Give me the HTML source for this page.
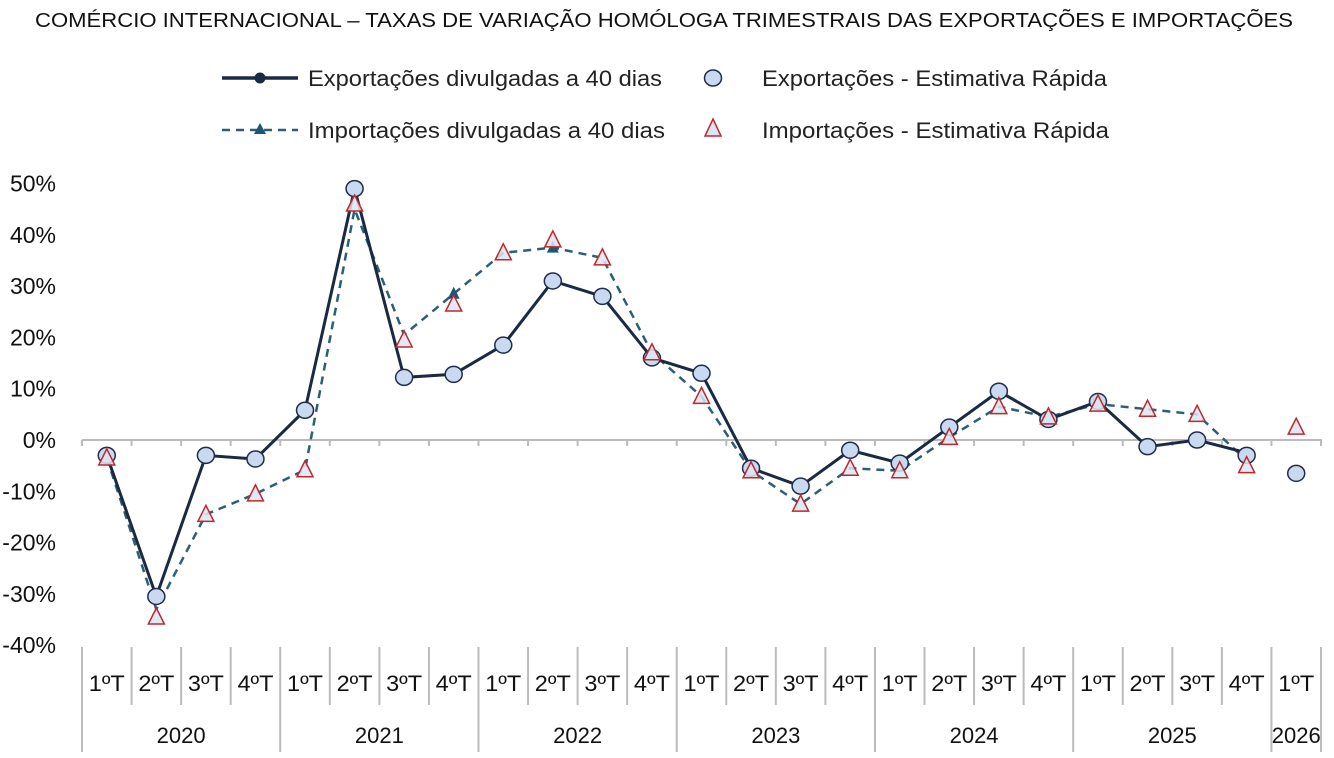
<!DOCTYPE html>
<html><head><meta charset="utf-8"><style>
html,body{margin:0;padding:0;background:#fff;}
svg{display:block;font-family:"Liberation Sans",sans-serif;}
</style></head><body>
<svg id="c" width="1334" height="758" xmlns="http://www.w3.org/2000/svg">
<text x="35" y="27" font-size="20" fill="#111" textLength="1258" lengthAdjust="spacingAndGlyphs">COMÉRCIO INTERNACIONAL – TAXAS DE VARIAÇÃO HOMÓLOGA TRIMESTRAIS DAS EXPORTAÇÕES E IMPORTAÇÕES</text>
<line x1="222" y1="78" x2="298" y2="78" stroke="#1a2a44" stroke-width="3.5"/>
<circle cx="260" cy="78" r="5.5" fill="#1a2a44"/>
<text x="308" y="86" font-size="22" fill="#222" textLength="354" lengthAdjust="spacingAndGlyphs">Exportações divulgadas a 40 dias</text>
<ellipse cx="713" cy="78" rx="8.5" ry="8" fill="#c9d9ef" stroke="#1f2d4a" stroke-width="1.5"/>
<text x="762" y="86" font-size="22" fill="#222" textLength="345" lengthAdjust="spacingAndGlyphs">Exportações - Estimativa Rápida</text>
<line x1="222" y1="130" x2="298" y2="130" stroke="#2d5f73" stroke-width="2.5" stroke-dasharray="8,6"/>
<polygon points="260,123 266,134 254,134" fill="#1f5673"/>
<text x="308" y="138" font-size="22" fill="#222" textLength="357" lengthAdjust="spacingAndGlyphs">Importações divulgadas a 40 dias</text>
<polygon points="713,119 721,136 705,136" fill="#dce6f2" stroke="#c0272d" stroke-width="1.5"/>
<text x="762" y="138" font-size="22" fill="#222" textLength="347" lengthAdjust="spacingAndGlyphs">Importações - Estimativa Rápida</text>
<g id="g"></g>
</svg>
<script>
var g=document.getElementById('g'),s='';
function Y(v){return 440-v*5.13;}
var x0=82,w=49.56;function X(i){return x0+w*(i+0.5);}
for(var v=50;v>=-40;v-=10){s+='<text x="56" y="'+(Y(v)+8)+'" text-anchor="end" font-size="23" fill="#111">'+v+'%</text>';}
s+='<line x1="82" y1="440" x2="1322" y2="440" stroke="#bbb" stroke-width="2"/>';
for(var i=0;i<=25;i++){var x=x0+w*i;s+='<line x1="'+x+'" y1="440" x2="'+x+'" y2="446" stroke="#bbb" stroke-width="2"/>';}
var yr=[0,4,8,12,16,20,24,25];
for(var i=0;i<=25;i++){var x=x0+w*i;var big=yr.indexOf(i)>=0;s+='<line x1="'+x+'" y1="647" x2="'+x+'" y2="'+(big?752:705)+'" stroke="#bbb" stroke-width="2"/>';}
var q=['1ºT','2ºT','3ºT','4ºT'];
for(var i=0;i<25;i++){s+='<text x="'+(X(i)-18)+'" y="691" font-size="22" fill="#111" textLength="36" lengthAdjust="spacingAndGlyphs">'+q[i%4]+'</text>';}
var ys=['2020','2021','2022','2023','2024','2025'];
for(var k=0;k<6;k++){s+='<text x="'+(x0+w*(4*k+2))+'" y="743" text-anchor="middle" font-size="22" fill="#111">'+ys[k]+'</text>';}
s+='<text x="'+X(24)+'" y="743" text-anchor="middle" font-size="22" fill="#111">2026</text>';
var ex=[-3,-30.5,-3,-3.7,5.8,49,12.2,12.8,18.5,31,28,16,13,-5.5,-9,-2,-4.5,2.5,9.5,4,7.5,-1.3,0,-3,-6.5];
var exl=ex.slice(0,24);exl[23]=-2.5;
var im=[-3.5,-34.5,-14.5,-10.5,-5.8,46,19.5,26.5,36.5,39,35.5,17,8.5,-6,-12.5,-5.5,-6,0.5,6.5,4.5,7,6,5,-5,2.5];
var iml=im.slice(0,24);iml[1]=-33;iml[5]=45;iml[7]=28.5;iml[9]=37.5;iml[23]=-4;iml[6]=20.5;
function pl(a){return a.map(function(v,i){return X(i).toFixed(1)+','+Y(v).toFixed(1)}).join(' ');}
s+='<polyline points="'+pl(iml)+'" fill="none" stroke="#2d5f73" stroke-width="2.5" stroke-dasharray="8,6"/>';
s+='<polyline points="'+pl(exl)+'" fill="none" stroke="#1a2a44" stroke-width="3"/>';
[7,9].forEach(function(i){var x=X(i),y=Y(iml[i]);s+='<polygon points="'+x+','+(y-7)+' '+(x+6)+','+(y+5)+' '+(x-6)+','+(y+5)+'" fill="#1f5673"/>';});
ex.forEach(function(v,i){s+='<ellipse cx="'+X(i)+'" cy="'+Y(v)+'" rx="8.5" ry="8" fill="#c9d9ef" stroke="#1f2d4a" stroke-width="1.5"/>';});
im.forEach(function(v,i){var x=X(i),y=Y(v);s+='<polygon points="'+x+','+(y-9)+' '+(x+8)+','+(y+7)+' '+(x-8)+','+(y+7)+'" fill="#dce6f2" fill-opacity="0.85" stroke="#c0272d" stroke-width="1.5"/>';});
g.innerHTML=s;
</script>
</body></html>
